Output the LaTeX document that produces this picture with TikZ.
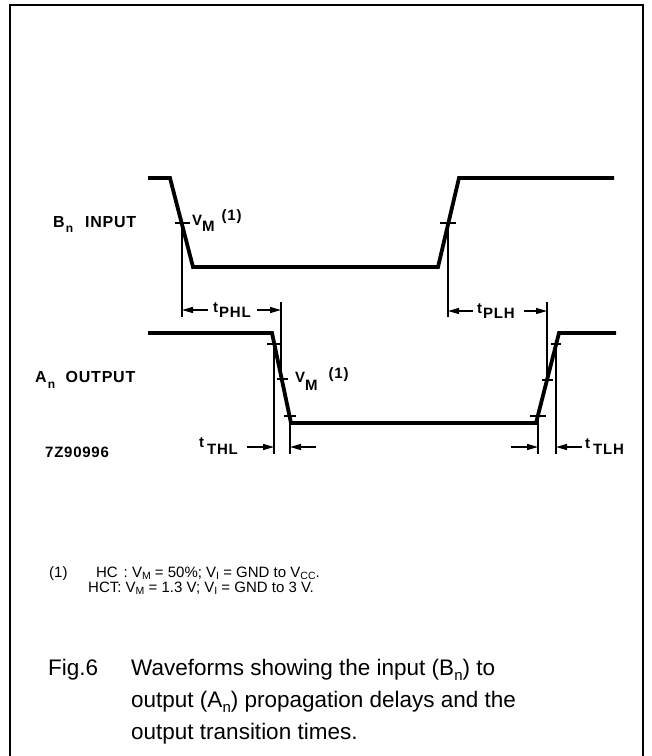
\documentclass[tikz,border=0pt]{standalone}
\usepackage{fontspec}
\setmainfont{Liberation Sans}
\newfontfamily\lblfont[LetterSpace=5]{Liberation Sans}
\usetikzlibrary{arrows.meta}
\newcommand\fnsub[1]{\raisebox{-2.5pt}{\fontsize{10.5}{10.5}\selectfont #1}}
\newcommand\capsub[1]{\raisebox{-5pt}{\fontsize{15}{15}\selectfont #1}}
\newcommand\lblsub[2]{\raisebox{#1}{\fontsize{12}{12}\selectfont #2}}
\begin{document}
\begin{tikzpicture}[x=1pt,y=-1pt,
  framebox/.style={line width=1.8pt},
  wave/.style={line width=3.8pt, line join=miter},
  guide/.style={line width=1.5pt},
  tickmark/.style={line width=1.6pt},
  dimarrow/.style={line width=1.4pt, -{Triangle[length=11pt,width=6pt]}},
  lbl/.style={inner sep=0pt, anchor=base west, font=\lblfont\bfseries\fontsize{16}{16}\selectfont},
  codelbl/.style={inner sep=0pt, anchor=base west, font=\lblfont\bfseries\fontsize{15}{15}\selectfont},
  tlbl/.style={inner sep=0pt, anchor=base west, font=\lblfont\bfseries\fontsize{15}{15}\selectfont},
  note/.style={inner sep=0pt, anchor=base west, font=\fontsize{15}{15}\selectfont},
  captxt/.style={inner sep=0pt, anchor=base west, font=\fontsize{22.5}{22.5}\selectfont},
]
\useasboundingbox (0,0) rectangle (652,756);
\draw[framebox] (10,760) -- (10,5) -- (643,5) -- (643,760);

% ---- input waveform
\coordinate (i0) at (148,178);
\coordinate (i1) at (170,178);
\coordinate (i2) at (193,267);
\coordinate (i3) at (438,267);
\coordinate (i4) at (459,178);
\coordinate (i5) at (614,178);
\draw[wave] (i0) -- (i1) -- (i2) -- (i3) -- (i4) -- (i5);

% ---- output waveform
\coordinate (o0) at (148,333);
\coordinate (o1) at (272,333);
\coordinate (o2) at (291,423);
\coordinate (o3) at (536,423);
\coordinate (o4) at (559,333);
\coordinate (o5) at (616,333);
\draw[wave] (o0) -- (o1) -- (o2) -- (o3) -- (o4) -- (o5);

% ---- tick marks
\draw[tickmark] (175,223) -- (190,223);
\draw[tickmark] (440,223) -- (456,223);
\draw[tickmark] (267,344) -- (282,344);
\draw[tickmark] (277,379) -- (288,379);
\draw[tickmark] (284,416) -- (296,416);
\draw[tickmark] (530,416) -- (546,416);
\draw[tickmark] (542,380) -- (553,380);
\draw[tickmark] (551,344) -- (561,344);

% ---- guide lines
\coordinate (g1t) at (182,223); \coordinate (g1b) at (182,317);
\coordinate (g2t) at (448,223); \coordinate (g2b) at (448,317);
\coordinate (g3t) at (281,302); \coordinate (g3b) at (281,379);
\coordinate (g4t) at (547,302); \coordinate (g4b) at (547,380);
\coordinate (g5t) at (274,344); \coordinate (g5b) at (274,454);
\coordinate (g6t) at (290,416); \coordinate (g6b) at (290,454);
\coordinate (g7t) at (538,416); \coordinate (g7b) at (538,454);
\coordinate (g8t) at (556,344); \coordinate (g8b) at (556,454);
\foreach \g in {1,...,8} \draw[guide] (g\g t) -- (g\g b);

% ---- dimension arrows
\coordinate (phlL) at (182,310); \coordinate (phlLs) at (208,310);
\coordinate (phlR) at (281,310); \coordinate (phlRs) at (257,310);
\draw[dimarrow] (phlLs) -- (phlL);
\draw[dimarrow] (phlRs) -- (phlR);
\coordinate (plhL) at (448,311); \coordinate (plhLs) at (473,311);
\coordinate (plhR) at (547,311); \coordinate (plhRs) at (524,311);
\draw[dimarrow] (plhLs) -- (plhL);
\draw[dimarrow] (plhRs) -- (plhR);
\coordinate (thlL) at (274,447); \coordinate (thlLs) at (247,447);
\coordinate (thlR) at (290,447); \coordinate (thlRs) at (316,447);
\draw[dimarrow] (thlLs) -- (thlL);
\draw[dimarrow] (thlRs) -- (thlR);
\coordinate (tlhL) at (538,447); \coordinate (tlhLs) at (511,447);
\coordinate (tlhR) at (556,447); \coordinate (tlhRs) at (582,447);
\draw[dimarrow] (tlhLs) -- (tlhL);
\draw[dimarrow] (tlhRs) -- (tlhR);

% ---- diagram labels
\node[lbl] (binlbl) at (53,227) {B\hspace{1pt}\lblsub{-5pt}{n}\hspace{12pt}INPUT};
\node[lbl] (anlbl) at (35,382) {A\hspace{1pt}\lblsub{-6pt}{n}\hspace{10.5pt}OUTPUT};
\node[codelbl] (code) at (45,457) {7Z90996};
\node[tlbl] (vmin) at (192,225) {V\raisebox{-6pt}{M}\hspace{7pt}\raisebox{5pt}{(1)}};
\node[tlbl] (vmout) at (295,382) {V\raisebox{-8pt}{M}\hspace{11pt}\raisebox{4pt}{(1)}};
\node[tlbl] (tphl) at (213,312) {t\hspace{1pt}\raisebox{-5pt}{PHL}};
\node[tlbl] (tplh) at (477,313) {t\hspace{1pt}\raisebox{-5pt}{PLH}};
\node[tlbl] (tthl) at (199,447) {t\hspace{3pt}\raisebox{-7pt}{THL}};
\node[tlbl] (ttlh) at (585,448) {t\hspace{3pt}\raisebox{-6pt}{TLH}};

% ---- footnote
\node[note] (fn1) at (49,577) {(1)\hspace{28.5pt}HC\hspace{6pt}: V\fnsub{M} = 50\%; V\fnsub{I} = GND to V\fnsub{CC}.};
\node[note] (fn2) at (88,592) {HCT: V\fnsub{M} = 1.3 V; V\fnsub{I} = GND to 3 V.};

% ---- caption
\node[captxt] (fig) at (48,675) {Fig.6};
\node[captxt] (cap1) at (131,675) {Waveforms showing the input (B\capsub{n}) to};
\node[captxt] (cap2) at (131,707) {output (A\capsub{n}) propagation delays and the};
\node[captxt] (cap3) at (131,739) {output transition times.};
\end{tikzpicture}
\end{document}
